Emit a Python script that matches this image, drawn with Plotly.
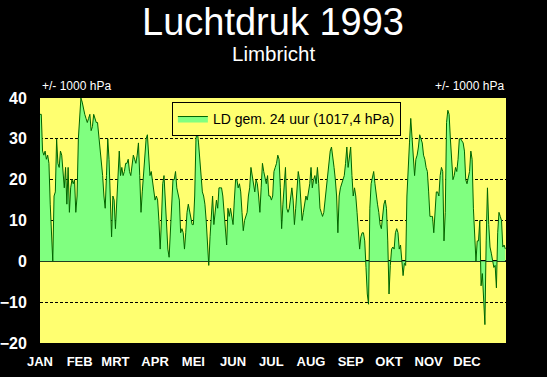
import plotly.graph_objects as go

# Daily air-pressure deviation from 1000 hPa, Limbricht 1993
jan = [36, 36, 27, 26, 27, 25, 26, 24, 14, 6, 0, 16, 17, 30, 24, 23, 27, 26, 22, 18,
       23, 14, 23, 12, 18, 20, 19, 20, 12, 16, 30]
feb = [36, 40, 39, 37, 36, 35, 34, 35, 36, 32, 33, 36, 35, 34, 34, 31, 27, 25, 21, 16,
       13, 21, 30, 25, 15, 6, 16, 15]
mrt = [8, 14, 21, 27, 21, 23, 21, 22, 24, 24, 25, 22, 21, 23, 26, 25, 24, 26, 29, 21,
       12, 17, 21, 26, 30, 31, 26, 21, 22, 20, 18]
apr = [15, 16, 15, 10, 3, 10, 19, 21, 15, 7, 3, 1, 7, 16, 20, 20, 22, 18, 16, 15,
       7, 8, 7, 3, 7, 12, 14, 12, 10, 9]
mei = [9, 16, 30, 32, 29, 25, 21, 17, 16, 14, 10, 3, -1, 6, 12, 16, 9, 13, 15, 13,
       18, 18, 18, 16, 12, 7.5, 4, 13, 11, 13, 11]
jun = [9, 15, 20, 20, 18, 19, 17, 12, 7.5, 10, 11, 12, 16, 18, 23, 21, 19, 17, 20, 19,
       16, 12, 18, 24, 22, 20, 19, 21, 16, 16]
jul = [15, 16, 22, 23, 24, 26, 25, 18, 8, 14, 20, 23, 13, 12, 13, 15, 18, 15, 9, 13,
       18, 22, 20, 15, 10, 12, 14, 16, 15, 17, 19]
aug = [23, 18, 20, 21, 19, 23, 19, 13, 12, 11, 12, 15, 18, 21, 24, 27, 28, 26, 23, 20,
       16, 7, 16, 18, 19, 20, 21, 24, 28, 23, 26]
sep = [28, 21, 16, 18, 16, 12, 7, 3, 6, 7, 7, 5, -1.5, -8, -10.5, 13, 19, 21, 22, 19,
       16, 14, 12, 9, 8, 12, 14, 15, 13, 5]
okt = [-8, -1, 3, 3.5, 3, 7, 8, 7, 3, 4, 0, -3.5, -0.5, -1, 16, 25, 29, 35, 31, 26,
       21, 25, 26, 28, 31, 30, 29, 26, 25, 23, 22]
nov = [17, 11, 11, 11, 7, 14, 17, 17, 16, 21, 23, 22, 5, 12, 34, 37, 36, 30, 23, 20,
       21, 23, 22, 25, 30, 30, 29.5, 29, 27, 20]
dec = [19, 21, 22, 27, 25, 13, 5, 0, 5, 5, 10, -6, -3, -9, -15.5, 5, 18, 9, 3.5, 2,
       0, -1.5, -1, -6.5, 7, 12, 11, 10, 3.5, 4, 3]

months = ["JAN", "FEB", "MRT", "APR", "MEI", "JUN", "JUL", "AUG", "SEP", "OKT", "NOV", "DEC"]
month_data = [jan, feb, mrt, apr, mei, jun, jul, aug, sep, okt, nov, dec]
y_ticks = [-20, -10, 0, 10, 20, 30, 40]

values = [v for m in month_data for v in m]
days = list(range(len(values)))
month_starts = []
acc = 0
for m in month_data:
    month_starts.append(acc)
    acc += len(m)

FONT = "Liberation Sans, Arial, sans-serif"
YELLOW = "#FFFF70"

fig = go.Figure()
fig.add_trace(go.Scatter(
    x=days, y=values, mode="lines", fill="tozeroy",
    fillcolor="#80FF80", line=dict(color="#006400", width=1),
    name="LD gem. 24 uur (1017,4 hPa)",
))

yaxis_common = dict(
    range=[-20, 40], tickvals=y_ticks, ticks="outside", ticklen=9, tickcolor="black",
    tickfont=dict(family=FONT, size=16, color="white", weight="bold"),
    showline=False, fixedrange=True, automargin=False,
)

fig.update_layout(
    width=547, height=377,
    margin=dict(l=40, r=41, t=98, b=34),
    paper_bgcolor="black", plot_bgcolor=YELLOW,
    showlegend=True,
    legend=dict(
        x=0.283, y=0.984, xanchor="left", yanchor="top",
        bgcolor=YELLOW, bordercolor="black", borderwidth=1,
        font=dict(family=FONT, size=14, color="black"),
        itemwidth=30, tracegroupgap=0,
    ),
    xaxis=dict(
        range=[0, 364.5], tickvals=month_starts, ticktext=months,
        ticks="outside", ticklen=6, tickcolor="black",
        tickfont=dict(family=FONT, size=13, color="white", weight="bold"),
        showgrid=False, zeroline=False, showline=False, automargin=False,
        fixedrange=True,
    ),
    yaxis=dict(
        **yaxis_common, side="left",
        showgrid=True, gridcolor="black", gridwidth=1, griddash="3px,2px",
        zeroline=True, zerolinecolor="black", zerolinewidth=1.5,
        layer="above traces",
    ),
    yaxis2=dict(
        **yaxis_common, side="right", overlaying="y", matches="y",
        showgrid=False, zeroline=False,
    ),
    annotations=[
        dict(text="Luchtdruk 1993", x=0.5, y=1.4, xref="paper", yref="paper",
             xanchor="center", yanchor="top", showarrow=False, borderpad=0,
             font=dict(family=FONT, size=38, color="white")),
        dict(text="Limbricht", x=0.5, y=1.182, xref="paper", yref="paper",
             xanchor="center", yanchor="middle", showarrow=False, borderpad=0,
             font=dict(family=FONT, size=20.5, color="white")),
        dict(text="+/- 1000 hPa", x=0.0, y=1.0, xref="paper", yref="paper",
             xanchor="left", yanchor="bottom", yshift=3, showarrow=False,
             font=dict(family=FONT, size=12, color="white")),
        dict(text="+/- 1000 hPa", x=1.0, y=1.0, xref="paper", yref="paper",
             xanchor="right", yanchor="bottom", yshift=3, showarrow=False,
             font=dict(family=FONT, size=12, color="white")),
    ],
)

fig.write_html(
    "out.html",
    config={"displayModeBar": False},
    post_script="document.body.style.margin='0px';document.body.style.background='black';",
)
